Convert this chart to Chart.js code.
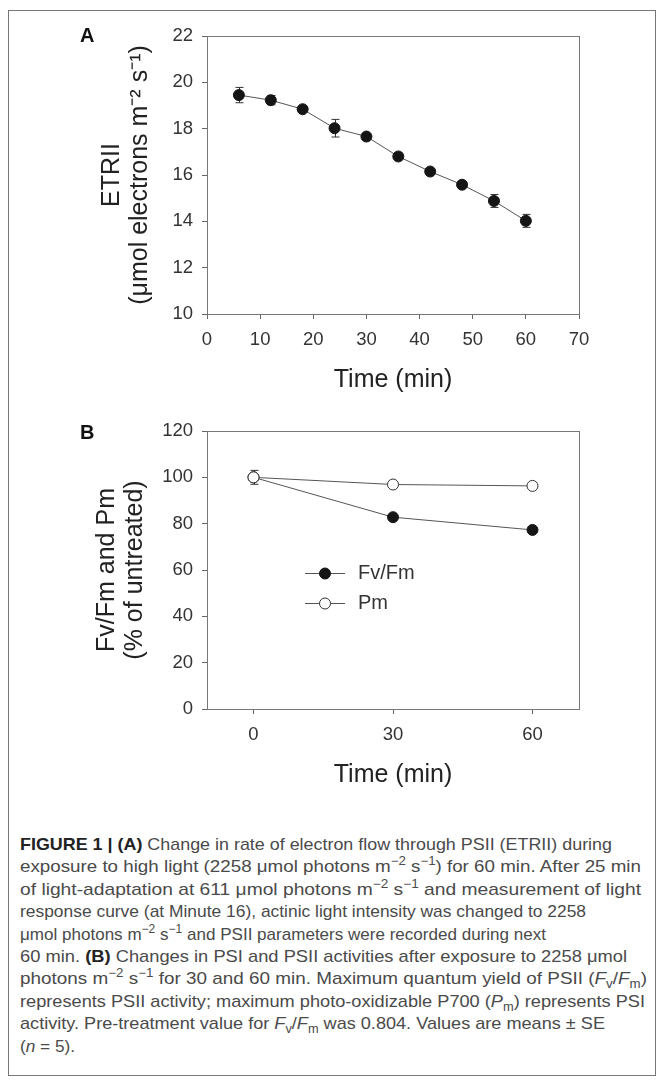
<!DOCTYPE html>
<html>
<head>
<meta charset="utf-8">
<script src="https://cdn.jsdelivr.net/npm/chart.js@4.4.0/dist/chart.umd.min.js"></script>
<style>
  body { margin: 0; background: #fff; }
  #page { position: relative; width: 662px; height: 1084px; overflow: hidden; font-family: "Liberation Sans", Arial, sans-serif; }
  #frame { position: absolute; left: 8px; top: 10px; width: 646px; height: 1064px; border: 1px solid #777; }
  canvas { position: absolute; left: 0; }
  .panel { position: absolute; left: 80px; font-weight: bold; font-size: 20px; line-height: 1; color: #111; }
  #caption { position: absolute; left: 20px; top: 834px; font-size: 17px; color: #4a4a4a; }
  #caption div { height: 22.4px; line-height: 22.4px; white-space: nowrap; }
  #caption span.ln { display: inline-block; transform-origin: 0 50%; }
  #caption b { color: #222; }
  #caption sup, #caption sub { font-size: 12px; line-height: 0; }
</style>
</head>
<body>
<div id="page">
  <div id="frame"></div>
  <canvas id="chartA" width="662" height="400" style="top:0"></canvas>
  <canvas id="chartB" width="662" height="400" style="top:400px"></canvas>
  <div class="panel" style="top:25px">A</div>
  <div class="panel" style="top:422px">B</div>
  <div id="caption">
    <div><span class="ln"><b>FIGURE 1 | (A)</b> Change in rate of electron flow through PSII (ETRII) during</span></div>
    <div><span class="ln">exposure to high light (2258 μmol photons m<sup>−2</sup> s<sup>−1</sup>) for 60 min. After 25 min</span></div>
    <div><span class="ln">of light-adaptation at 611 μmol photons m<sup>−2</sup> s<sup>−1</sup> and measurement of light</span></div>
    <div><span class="ln">response curve (at Minute 16), actinic light intensity was changed to 2258</span></div>
    <div><span class="ln">μmol photons m<sup>−2</sup> s<sup>−1</sup> and PSII parameters were recorded during next</span></div>
    <div><span class="ln">60 min. <b>(B)</b> Changes in PSI and PSII activities after exposure to 2258 μmol</span></div>
    <div><span class="ln">photons m<sup>−2</sup> s<sup>−1</sup> for 30 and 60 min. Maximum quantum yield of PSII (<i>F</i><sub>v</sub>/<i>F</i><sub>m</sub>)</span></div>
    <div><span class="ln">represents PSII activity; maximum photo-oxidizable P700 (<i>P</i><sub>m</sub>) represents PSI</span></div>
    <div><span class="ln">activity. Pre-treatment value for <i>F</i><sub>v</sub>/<i>F</i><sub>m</sub> was 0.804. Values are means ± SE</span></div>
    <div><span class="ln">(<i>n</i> = 5).</span></div>
  </div>
</div>
<script>
// panel A: ETRII over time
const timeA = [6, 12, 18, 24, 30, 36, 42, 48, 54, 60];
const etr = [19.45, 19.23, 18.84, 18.02, 17.66, 16.8, 16.15, 15.58, 14.88, 14.02];
const etrErr = [0.33, 0.2, 0.1, 0.38, 0.12, 0.15, 0.1, 0.12, 0.28, 0.28];
const xTicksA = [0, 10, 20, 30, 40, 50, 60, 70];
const yTicksA = [10, 12, 14, 16, 18, 20, 22];

// panel B: Fv/Fm and Pm
const timeB = [0, 30, 60];
const fvfm = [100, 82.8, 77.3];
const fvfmErr = [0, 0.6, 0.6];
const pm = [100, 96.9, 96.3];
const pmErr = [3, 0.6, 0.6];
const xTicksB = [0, 30, 60];
const yTicksB = [0, 20, 40, 60, 80, 100, 120];

// caption line right edges in the reference (px from page left)
const captionEnds = [612, 641, 641, 586, 546, 627, 647, 645, 605, 75];

const FONT = '"Liberation Sans", Arial, sans-serif';
const INK = '#333';

// box round the plot area
const frameBox = {
  id: 'frameBox',
  beforeDatasetsDraw(chart) {
    const a = chart.chartArea, ctx = chart.ctx;
    ctx.save();
    ctx.strokeStyle = '#777';
    ctx.lineWidth = 1;
    ctx.strokeRect(Math.round(a.left) + 0.5, Math.round(a.top) + 0.5,
      Math.round(a.right - a.left), Math.round(a.bottom - a.top));
    ctx.restore();
  }
};

// +/- SE bars, drawn under the markers
const errorBars = {
  id: 'errorBars',
  beforeDatasetsDraw(chart) {
    const { ctx, scales: { x, y } } = chart;
    ctx.save();
    ctx.strokeStyle = '#333';
    ctx.lineWidth = 1;
    chart.data.datasets.forEach(ds => {
      if (!ds.errors) return;
      ds.data.forEach((p, i) => {
        const e = ds.errors[i];
        if (!e) return;
        const px = Math.round(x.getPixelForValue(p.x)) + 0.5;
        const top = y.getPixelForValue(p.y + e);
        const bot = y.getPixelForValue(p.y - e);
        ctx.beginPath();
        ctx.moveTo(px, top); ctx.lineTo(px, bot);
        ctx.moveTo(px - 4, top); ctx.lineTo(px + 4, top);
        ctx.moveTo(px - 4, bot); ctx.lineTo(px + 4, bot);
        ctx.stroke();
      });
    });
    ctx.restore();
  }
};

// legend sitting inside the plot of panel B
const innerLegend = {
  id: 'innerLegend',
  afterDatasetsDraw(chart) {
    const { ctx, chartArea: a } = chart;
    const rows = chart.data.datasets.slice().sort((p, q) => q.order - p.order);
    ctx.save();
    rows.forEach((ds, i) => {
      const y = Math.round(a.top + 142 + i * 30) + 0.5;
      const x0 = a.left + 98;
      ctx.strokeStyle = ds.borderColor;
      ctx.lineWidth = 1;
      ctx.beginPath();
      ctx.moveTo(x0, y); ctx.lineTo(x0 + 40, y);
      ctx.stroke();
      ctx.beginPath();
      ctx.arc(x0 + 20, y, ds.pointRadius, 0, Math.PI * 2);
      ctx.fillStyle = ds.pointBackgroundColor;
      ctx.fill();
      ctx.strokeStyle = ds.pointBorderColor;
      ctx.stroke();
      ctx.fillStyle = INK;
      ctx.font = '20px ' + FONT;
      ctx.textBaseline = 'middle';
      ctx.fillText(ds.label, x0 + 53, y);
    });
    ctx.restore();
  }
};

function axisX(min, max, ticks, title) {
  return {
    type: 'linear', min, max,
    afterBuildTicks: s => { s.ticks = ticks.map(v => ({ value: v })); },
    afterFit: s => { s.height = 80; },
    grid: { drawOnChartArea: false, drawTicks: true, tickLength: 5, color: '#666' },
    border: { display: false },
    ticks: { padding: 10, color: INK, maxRotation: 0, font: { size: 18.5, family: FONT } },
    title: { display: true, text: title, color: '#222', padding: { top: 0, bottom: 0 },
      font: { size: 25, family: FONT, lineHeight: 1.1 } }
  };
}

function axisY(min, max, ticks, title, titlePad) {
  return {
    min, max,
    afterBuildTicks: s => { s.ticks = ticks.map(v => ({ value: v })); },
    afterFit: s => { s.width = 207; },
    grid: { drawOnChartArea: false, drawTicks: true, tickLength: 5, color: '#666' },
    border: { display: false },
    ticks: { padding: 9, color: INK, font: { size: 18.5, family: FONT } },
    title: { display: true, text: title, color: '#222', padding: { top: titlePad, bottom: 0 },
      font: { size: 25, family: FONT, lineHeight: 1.1 } }
  };
}

const common = {
  responsive: false,
  animation: false,
  events: [],
  plugins: { legend: { display: false }, tooltip: { enabled: false } }
};

new Chart(document.getElementById('chartA'), {
  type: 'line',
  data: {
    datasets: [{
      label: 'ETRII',
      data: timeA.map((t, i) => ({ x: t, y: etr[i] })),
      errors: etrErr,
      borderColor: '#555', borderWidth: 1, tension: 0,
      pointRadius: 5.5, pointBackgroundColor: '#151515', pointBorderColor: '#151515'
    }]
  },
  options: {
    ...common,
    layout: { padding: { left: 0, top: 36, right: 83, bottom: 6 } },
    scales: {
      x: axisX(0, 70, xTicksA, 'Time (min)'),
      y: axisY(10, 22, yTicksA, ['ETRII', '(μmol electrons m⁻² s⁻¹)'], 98.75)
    }
  },
  plugins: [frameBox, errorBars]
});

new Chart(document.getElementById('chartB'), {
  type: 'line',
  data: {
    datasets: [{
      label: 'Fv/Fm',
      order: 2,
      data: timeB.map((t, i) => ({ x: t, y: fvfm[i] })),
      errors: fvfmErr,
      borderColor: '#555', borderWidth: 1, tension: 0,
      pointRadius: 5.5, pointBackgroundColor: '#151515', pointBorderColor: '#151515'
    }, {
      label: 'Pm',
      order: 1,
      data: timeB.map((t, i) => ({ x: t, y: pm[i] })),
      errors: pmErr,
      borderColor: '#555', borderWidth: 1, tension: 0,
      pointRadius: 5.5, pointBackgroundColor: '#fff', pointBorderColor: '#333'
    }]
  },
  options: {
    ...common,
    layout: { padding: { left: 0, top: 31, right: 83, bottom: 11 } },
    scales: {
      x: axisX(-10, 70, xTicksB, 'Time (min)'),
      y: axisY(0, 120, yTicksB, ['Fv/Fm and Pm', '(% of untreated)'], 93.75)
    }
  },
  plugins: [frameBox, errorBars, innerLegend]
});

// squeeze each caption line to the width it has in the reference
document.querySelectorAll('#caption span.ln').forEach((el, i) => {
  const w = el.getBoundingClientRect().width;
  const target = captionEnds[i] - 20;
  el.style.transform = 'scaleX(' + (target / w).toFixed(4) + ')';
});
</script>
</body>
</html>
